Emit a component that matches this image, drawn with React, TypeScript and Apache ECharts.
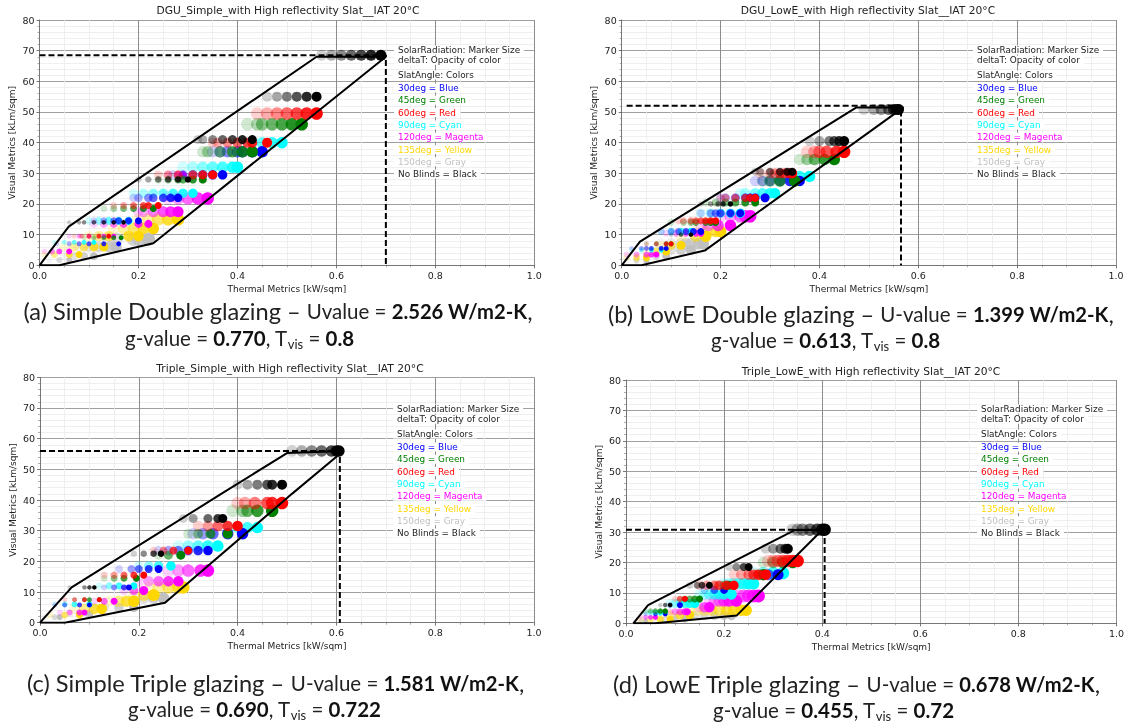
import React, { useEffect, useRef } from "react";
import * as echarts from "echarts";

type Row = [number, number, number[]]; // visual metric, solar radiation, thermal metrics

const aBlue: Row[] = [[37,1150,[.35,.365,.38,.40,.41,.43,.45]],[29.5,950,[.27,.29,.31,.33,.35,.37]],[22,850,[.19,.20,.22,.23,.25,.265,.28]],[14.5,700,[.11,.13,.15,.16,.18,.20]],[7,500,[.035,.06,.08,.10,.13,.16]]];
const aGreen: Row[] = [[46,1250,[.42,.44,.45,.47,.49,.51,.53]],[37,1150,[.33,.34,.365,.39,.41,.43]],[28,800,[.24,.26,.28,.29,.31,.33]],[18.5,700,[.13,.15,.17,.19,.21,.23]],[9,500,[.09,.11,.13,.15,.165]]];
const aRed: Row[] = [[49.5,1250,[.44,.46,.48,.50,.52,.54,.56]],[40,1000,[.35,.36,.38,.40,.42,.43,.46]],[29.5,900,[.24,.26,.28,.31,.33,.35]],[19.5,700,[.15,.17,.19,.21,.22,.24]],[9.5,500,[.07,.085,.10,.12,.14]]];
const aCyan: Row[] = [[40,1150,[.41,.43,.45,.47,.49]],[32,1150,[.29,.31,.33,.35,.37,.39,.40]],[23.5,950,[.19,.21,.23,.25,.27,.29,.31]],[14.5,800,[.10,.12,.14,.16,.18]],[7.5,500,[.03,.05,.07,.09,.11]]];
const aMagenta: Row[] = [[29.5,800,[.26,.28,.29]],[21.8,1250,[.26,.28,.30,.32,.34]],[17.5,1100,[.20,.21,.23,.25,.265,.28]],[13.5,800,[.11,.13,.15,.17,.20,.22]],[9.5,500,[.06,.08,.10,.13,.15]],[4.5,600,[.01,.025,.04,.06]]];
const aYellow: Row[] = [[15,1250,[.20,.22,.24,.26,.28]],[12,1150,[.15,.17,.19,.21,.23]],[9.5,1050,[.10,.12,.14,.18,.2]],[6,900,[.05,.07,.09,.11,.13]],[3.5,700,[.01,.03,.06,.08]]];
const aGray: Row[] = [[8.5,1350,[.12,.14,.155,.19,.2,.22]],[6,1100,[.08,.1,.12,.14,.155]],[3,800,[.05,.07,.09,.11]],[1.7,600,[.02,.04,.06]]];
const aBlack: Row[] = [[68.5,1100,[.57,.59,.61,.63,.65,.67,.69]],[55,1000,[.46,.48,.50,.52,.54,.56]],[41,900,[.32,.33,.35,.37,.39,.41,.43]],[28,650,[.20,.22,.24,.26,.28,.30]],[14,450,[.06,.08,.09,.11,.13,.15,.17]]];

const bBlue: Row[] = [[27.5,1050,[.27,.285,.30,.32,.34,.36]],[22,900,[.20,.21,.23,.25,.26,.27,.29]],[17,800,[.16,.18,.19,.20,.22,.24]],[11,700,[.08,.10,.115,.13,.145,.16]],[5.5,500,[.02,.04,.05,.06,.08,.09]]];
const bGreen: Row[] = [[34.5,1150,[.36,.375,.39,.41,.43]],[27.5,1150,[.285,.30,.32,.35]],[20.5,800,[.17,.19,.21,.23,.25,.27]],[14,700,[.10,.125,.14,.15,.17,.18,.19]],[7,500,[.05,.07,.09,.10]]];
const bRed: Row[] = [[37,1250,[.375,.39,.40,.415,.435,.45]],[30,1000,[.28,.30,.31,.32,.33,.34,.345]],[22,800,[.20,.21,.23,.25,.26,.27]],[14.5,700,[.115,.125,.14,.15,.16,.17,.18,.19]],[7,500,[.05,.07,.09,.10]]];
const bCyan: Row[] = [[29,1150,[.31,.32,.34,.36,.38]],[23.5,1050,[.24,.25,.27,.285,.30,.31]],[17,950,[.16,.18,.20,.22,.24]],[11,750,[.08,.10,.12,.14]],[5,500,[.02,.04,.06,.08]]];
const bMagenta: Row[] = [[16,1250,[.20,.22,.24,.25,.26]],[13,1150,[.16,.175,.195,.22]],[10.5,700,[.09,.11,.13,.15,.16]],[3.5,600,[.01,.03,.05,.06,.07]]];
const bYellow: Row[] = [[11,1150,[.15,.17,.19,.20]],[9.5,1150,[.12,.15,.17]],[6.5,900,[.08,.10,.12]],[4.5,800,[.05,.07,.09]],[2.5,700,[.01,.03,.05]]];
const bGray: Row[] = [[7,1150,[.08,.10,.12,.13,.14,.155,.165]],[5,1000,[.08,.10,.12,.14]],[3,800,[.05,.07,.09]],[1.5,600,[.01,.03,.05]]];
const bBlack: Row[] = [[50.8,1100,[.49,.51,.525,.54,.55,.555,.56]],[40.5,1000,[.38,.40,.42,.43,.44,.45]],[30.5,800,[.27,.28,.30,.32,.335,.345]],[20,550,[.16,.18,.195,.205,.22]],[10,450,[.10,.12,.14]]];

const cBlue: Row[] = [[29,1150,[.31,.33,.35,.38,.41]],[23.5,950,[.24,.26,.28,.30,.32,.34]],[17.5,800,[.16,.185,.20,.22,.24]],[11.5,600,[.13,.15,.17,.18]],[5.8,500,[.03,.05,.08,.10]]];
const cGreen: Row[] = [[36.5,1250,[.39,.41,.42,.44,.47]],[29,1000,[.30,.32,.345,.38]],[22,900,[.24,.26,.285]],[14.5,700,[.13,.15,.17,.195]],[7.5,500,[.07,.09,.10,.12]]];
const cRed: Row[] = [[39,1250,[.40,.415,.435,.46,.47,.49]],[31.5,1050,[.32,.34,.36,.38,.40]],[23.5,800,[.23,.25,.27,.30]],[15.5,700,[.13,.15,.17,.19,.21]],[7.5,500,[.05,.07,.09,.12]]];
const cCyan: Row[] = [[31,1150,[.38,.40,.42,.44]],[25,1150,[.28,.30,.32,.34,.36]],[18.5,950,[.20,.22,.24,.265]],[12,700,[.12,.14,.16,.19]],[6,600,[.03,.05,.07,.10]]];
const cMagenta: Row[] = [[17,1250,[.26,.28,.30,.325,.34]],[13.5,1050,[.20,.22,.24,.26,.28]],[10.5,900,[.17,.19,.21]],[7,700,[.11,.13,.15]],[3.3,600,[.04,.06,.08,.09]]];
const cYellow: Row[] = [[11.5,1250,[.22,.24,.26,.28,.29]],[9,1200,[.19,.21,.23]],[7,1150,[.14,.16,.175,.19]],[4.5,1050,[.07,.09,.11,.125]],[2.5,700,[.02,.05,.08]]];
const cGray: Row[] = [[8,1150,[.19,.21,.23,.25]],[5,950,[.11,.13,.16,.19]],[3,800,[.06,.08,.10]],[1.8,600,[.01,.03,.04]]];
const cBlack: Row[] = [[56,1150,[.51,.53,.55,.57,.59,.60,.605]],[45,1000,[.40,.42,.44,.46,.47,.49]],[34,900,[.29,.31,.34,.36,.37]],[22.5,650,[.19,.21,.23,.245]],[11.5,450,[.06,.09,.10,.11]]];

const dBlue: Row[] = [[16,1100,[.28,.29,.31]],[11,800,[.16,.18,.20]],[6,600,[.09,.11]],[3,450,[.04,.06,.08]]];
const dGreen: Row[] = [[20,1150,[.28,.30,.32,.34]],[16,1150,[.27,.28]],[12.5,900,[.185,.20,.21]],[8,700,[.11,.12,.13,.14,.15]],[4,550,[.04,.05,.06,.07,.08]]];
const dRed: Row[] = [[20.5,1250,[.29,.30,.31,.32,.33,.34,.35]],[16,1050,[.22,.235,.25,.26,.27,.285]],[12.5,950,[.15,.165,.18,.19,.205,.22]],[8,600,[.10,.11,.12]]];
const dCyan: Row[] = [[16.5,1250,[.26,.28,.30,.32]],[13,1150,[.20,.21,.22,.23,.24,.25,.26]],[9.5,1050,[.15,.16,.17,.18,.19,.20,.215]],[6.5,900,[.09,.10,.11,.12,.13,.14]],[3.5,600,[.04,.05,.06,.07,.08]]];
const dMagenta: Row[] = [[9,1300,[.22,.23,.24,.25,.26,.27]],[7.3,1150,[.17,.18,.19,.20,.21,.225]],[5.3,1050,[.15,.16,.17]],[3.8,700,[.09,.10,.11,.12,.125]],[2,500,[.03,.04,.05,.06]]];
const dYellow: Row[] = [[4.3,1150,[.13,.145,.16,.175,.19,.205,.22,.235,.245]],[2.7,900,[.07,.09,.11,.13]],[1.2,700,[.03,.05,.07,.09]]];
const dGray: Row[] = [[2.5,900,[.10,.12,.14,.16,.18,.20,.215]],[1.4,700,[.06,.08,.10,.12]],[.8,500,[.02,.03,.04]]];
const dBlack: Row[] = [[30.8,1250,[.34,.35,.36,.375,.39,.40,.405]],[24.5,1000,[.285,.30,.315,.325,.33]],[18.5,800,[.21,.225,.24,.25]],[12.5,700,[.13,.145,.155,.17]],[6,450,[.07,.08,.09]]];

// envelope (thermal, visual) and the dashed peak guide
const aEnvelope = [[0,0],[.059,12.6],[.56,68],[.70,68],[.23,7.2],[.04,0],[0,0]];
const bEnvelope = [[0,0],[.037,7.7],[.475,51.5],[.57,51.5],[.168,4.8],[.04,0],[0,0]];
const cEnvelope = [[0,0],[.064,11.5],[.37,42.3],[.50,55.3],[.614,56],[.51,42],[.253,6.5],[.05,0],[0,0]];
const dEnvelope = [[.015,0],[.045,6],[.345,30.7],[.40,30.7],[.226,2.6],[.06,0],[.015,0]];
const aPeak = [[0,68.5],[.70,68.5],[.70,0]];
const bPeak = [[.01,52],[.565,52],[.565,0]];
const cPeak = [[0,56],[.607,56],[.607,0]];
const dPeak = [[0,30.8],[.405,30.8],[.405,0]];

const titles = ["DGU_Simple_with High reflectivity Slat__IAT 20°C","DGU_LowE_with High reflectivity Slat__IAT 20°C","Triple_Simple_with High reflectivity Slat__IAT 20°C","Triple_LowE_with High reflectivity Slat__IAT 20°C"];
const xTitle = "Thermal Metrics [kW/sqm]";
const yTitle = "Visual Metrics [kLm/sqm]";
const angleLabels = ["30deg = Blue","45deg = Green","60deg = Red","90deg = Cyan","120deg = Magenta","135deg = Yellow","150deg = Gray","No Blinds = Black"];
const angleColors = ["#0000ff","#008000","#ff0000","#00ffff","#ff00ff","#ffd700","#c0c0c0","#000000"];
const drawOrder = [6,5,4,3,0,1,2,7];

const panels = [
  { rows: [aBlue,aGreen,aRed,aCyan,aMagenta,aYellow,aGray,aBlack], env: aEnvelope, peak: aPeak, l: 39.5, r: 534.3, t: 20, b: 265.3, legendX: 398, legendY: 50, titleX: 288, titleY: 10 },
  { rows: [bBlue,bGreen,bRed,bCyan,bMagenta,bYellow,bGray,bBlack], env: bEnvelope, peak: bPeak, l: 621.7, r: 1116, t: 20, b: 265.3, legendX: 977, legendY: 50, titleX: 868, titleY: 10 },
  { rows: [cBlue,cGreen,cRed,cCyan,cMagenta,cYellow,cGray,cBlack], env: cEnvelope, peak: cPeak, l: 40, r: 534, t: 377.3, b: 622.7, legendX: 397, legendY: 409, titleX: 290, titleY: 368 },
  { rows: [dBlue,dGreen,dRed,dCyan,dMagenta,dYellow,dGray,dBlack], env: dEnvelope, peak: dPeak, l: 626, r: 1117.5, t: 380, b: 623.3, legendX: 981, legendY: 409, titleX: 871, titleY: 371 },
];

const captions = [
  { x: 23.5, y: 311, lines: "{big|(a) Simple Double glazing – }{mid|Uvalue = }{bold|2.526 W/m2-K}{big|,}", x2: 125, y2: 338, rest: ["0.770","0.8"] },
  { x: 608, y: 314, lines: "{big|(b) LowE Double glazing – }{mid|U-value = }{bold|1.399 W/m2-K}{big|,}", x2: 711, y2: 340, rest: ["0.613","0.8"] },
  { x: 27, y: 683, lines: "{big|(c) Simple Triple glazing – }{mid|U-value = }{bold|1.581 W/m2-K}{big|,}", x2: 128, y2: 709, rest: ["0.690","0.722"] },
  { x: 613, y: 684, lines: "{big|(d) LowE Triple glazing – }{mid|U-value = }{bold|0.678 W/m2-K}{big|,}", x2: 713, y2: 710, rest: ["0.455","0.72"] },
];

const capFont = "Lato, 'Open Sans', sans-serif";
const dejavu = "'DejaVu Sans', sans-serif";
const capRich = {
  big: { fontFamily: capFont, fontSize: 23.6, fill: "#222", lineHeight: 25 },
  mid: { fontFamily: capFont, fontSize: 20.5, fill: "#222", lineHeight: 25 },
  bold: { fontFamily: capFont, fontSize: 20.2, fontWeight: "bold", fill: "#111", lineHeight: 25 },
  line2: { fontFamily: capFont, fontSize: 20.5, fill: "#222", lineHeight: 25 },
  bold2: { fontFamily: capFont, fontSize: 20.5, fontWeight: "bold", fill: "#111", lineHeight: 25 },
  sub: { fontFamily: capFont, fontSize: 13, fill: "#222", lineHeight: 25, verticalAlign: "bottom" },
};

function buildOption() {
  const grid: any[] = [], xAxis: any[] = [], yAxis: any[] = [], series: any[] = [], graphic: any[] = [];
  panels.forEach((p, i) => {
    grid.push({ left: p.l, top: p.t, width: p.r - p.l, height: p.b - p.t, show: false });
    const lineCommon = {
      axisLine: { show: true, onZero: false, lineStyle: { color: "#777", width: 1 } },
      axisTick: { show: true, length: 3, lineStyle: { color: "#555", width: 0.8 } },
      minorTick: { show: true, length: 2, lineStyle: { color: "#777", width: 0.6 } },
      minorSplitLine: { show: true, lineStyle: { color: "#ebebeb", width: 0.8 } },
      nameTextStyle: { fontFamily: dejavu, fontSize: 9, color: "#222" },
    };
    xAxis.push({
      gridIndex: i, type: "value", min: 0, max: 1, interval: 0.2, ...lineCommon,
      minorTick: { ...lineCommon.minorTick, splitNumber: 4 },
      splitLine: { show: true, lineStyle: { color: "#8c8c8c", width: 1 } },
      axisLabel: { fontFamily: dejavu, fontSize: 9.5, color: "#222", margin: 5, formatter: (v: number) => v.toFixed(1) },
      name: xTitle, nameLocation: "middle", nameGap: 19,
    });
    yAxis.push({
      gridIndex: i, type: "value", min: 0, max: 80, interval: 10, ...lineCommon,
      minorTick: { ...lineCommon.minorTick, splitNumber: 5 },
      splitLine: { show: true, lineStyle: { color: "#a0a0a0", width: 1.2 } },
      axisLabel: { fontFamily: dejavu, fontSize: 9.5, color: "#222", margin: 5 },
      name: yTitle, nameLocation: "middle", nameGap: 23,
    });
    drawOrder.forEach((c) => {
      const data: any[] = [];
      p.rows[c].forEach(([y, solar, xs]) => {
        xs.forEach((x, k) => {
          const f = xs.length > 1 ? k / (xs.length - 1) : 1;
          data.push({ value: [x, y, solar], itemStyle: { opacity: 0.18 + 0.82 * f } });
        });
      });
      series.push({
        type: "scatter", xAxisIndex: i, yAxisIndex: i, z: 3, silent: true,
        itemStyle: { color: angleColors[c] },
        symbolSize: (v: number[]) => v[2] / 100,
        data,
      });
    });
    series.push({ type: "line", xAxisIndex: i, yAxisIndex: i, z: 5, silent: true, symbol: "none", data: p.env, lineStyle: { color: "#000", width: 2 } });
    series.push({ type: "line", xAxisIndex: i, yAxisIndex: i, z: 5, silent: true, symbol: "none", data: p.peak, lineStyle: { color: "#000", width: 2, type: [6, 3] } });

    graphic.push({ type: "text", x: p.titleX, y: p.titleY, style: { text: titles[i], fontFamily: dejavu, fontSize: 10.7, fill: "#222", align: "center", verticalAlign: "middle" } });
    const lx = p.legendX - 4;
    const legendText = (text: string, y: number, fill: string) => ({
      type: "text", x: lx, y, z: 10,
      style: { text, fontFamily: dejavu, fontSize: 8.9, fill, align: "left", verticalAlign: "middle", backgroundColor: "#fff", padding: [0, 4, 0, 4] },
    });
    graphic.push(legendText("SolarRadiation: Marker Size", p.legendY, "#222"));
    graphic.push(legendText("deltaT: Opacity of color", p.legendY + 10.3, "#222"));
    graphic.push(legendText("SlatAngle: Colors", p.legendY + 25, "#222"));
    angleLabels.forEach((t, k) => graphic.push(legendText(t, p.legendY + 38 + k * 12.3, angleColors[k] === "#000000" ? "#222" : angleColors[k])));
  });
  captions.forEach((c) => {
    graphic.push({ type: "text", x: c.x, y: c.y, style: { text: c.lines, rich: capRich, align: "left", verticalAlign: "middle" } });
    graphic.push({ type: "text", x: c.x2, y: c.y2, style: { text: `{line2|g-value = }{bold2|${c.rest[0]}}{line2|, T}{sub|vis}{line2| = }{bold2|${c.rest[1]}}`, rich: capRich, align: "left", verticalAlign: "middle" } });
  });
  return { animation: false, backgroundColor: "#fff", grid, xAxis, yAxis, series, graphic };
}

export default function App() {
  const ref = useRef<HTMLDivElement>(null);
  useEffect(() => {
    const chart = echarts.init(ref.current!, undefined, { renderer: "svg" });
    chart.setOption(buildOption() as any);
    return () => chart.dispose();
  }, []);
  return <div ref={ref} style={{ position: "fixed", left: 0, top: 0, width: 1127, height: 725, filter: "blur(0.4px)" }} />;
}
